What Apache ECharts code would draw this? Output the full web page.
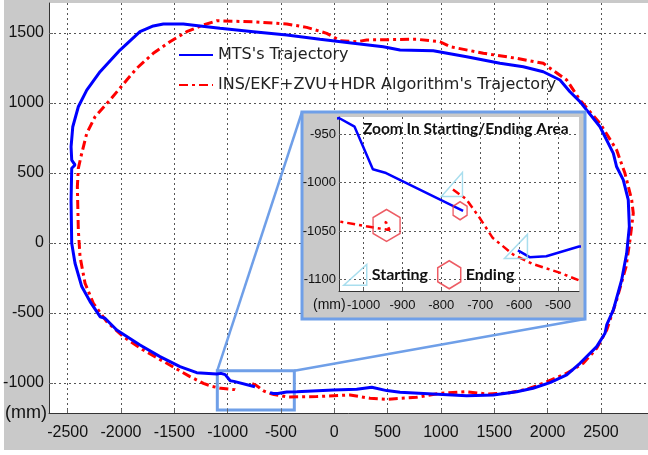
<!DOCTYPE html>
<html><head><meta charset="utf-8">
<script src="https://cdn.jsdelivr.net/npm/echarts@6/dist/echarts.min.js"></script>
<style>
html,body{margin:0;padding:0;background:#fff;}
#bg{position:absolute;left:4px;top:0;width:644px;height:450px;background:#c9c9c9;}
#c{position:absolute;left:0;top:0;width:648px;height:455px;}
</style>
</head><body><div id="bg"></div><div id="c"></div>
<script>
// ---- data ----
const xTicks = [-2500,-2000,-1500,-1000,-500,0,500,1000,1500,2000,2500];
const yTicks = [-1000,-500,0,500,1000,1500];
const insetXTicks = [-1000,-900,-800,-700,-600,-500];
const insetYTicks = [-1100,-1050,-1000,-950];
const seriesNames = ["MTS's Trajectory", "INS/EKF+ZVU+HDR Algorithm's Trajectory"];
const markerNames = ["Starting", "Ending"];
const insetTitle = "Zoom In Starting/Ending Area";
const unitLabel = "(mm)";

const mtsX = [-603,-573,-530,-446,-352,-9,210,351,491,616,925,1241,1491,1710,1863,2022,2179,2303,2460,2538,2554,2616,2694,2741,2766,2756,2709,2647,2616,2491,2303,2209,2116,1959,1772,1553,1241,928,616,459,178,-134,-446,-759,-1072,-1259,-1416,-1603,-1697,-1822,-2009,-2196,-2321,-2400,-2452,-2468,-2462,-2431,-2462,-2468,-2462,-2431,-2368,-2290,-2196,-2150,-2040,-1822,-1634,-1447,-1290,-1102,-1063,-1023,-976,-942,-744];
const mtsY = [-1070,-1077,-1076,-1066,-1064,-1051,-1046,-1032,-1056,-1068,-1080,-1092,-1087,-1064,-1039,-999,-944,-861,-742,-646,-587,-480,-266,-75,115,306,449,543,639,829,1008,1079,1163,1222,1258,1282,1329,1372,1377,1401,1425,1454,1484,1508,1532,1549,1563,1563,1549,1508,1377,1222,1091,972,829,686,591,556,532,300,-4,-146,-313,-420,-528,-539,-623,-730,-813,-885,-928,-937,-933,-942,-986,-990,-1029];

const insX = [-770,-736,-702,-668,-616,-565,-496,-446,-165,147,335,491,772,991,1241,1429,1616,1804,1959,2179,2334,2460,2554,2647,2735,2772,2803,2788,2725,2647,2491,2303,2179,1959,1710,1397,1085,991,772,304,210,53,-71,-259,-446,-759,-1102,-1228,-1384,-1541,-1697,-1853,-1946,-2103,-2243,-2321,-2368,-2400,-2409,-2400,-2384,-2337,-2259,-2134,-1978,-1791,-1571,-1353,-1228,-1150,-1063,-993,-933,-942,-951];
const insY = [-1007,-1017,-1036,-1057,-1074,-1084,-1093,-1101,-1099,-1087,-1111,-1118,-1104,-1075,-1064,-1080,-1075,-1046,-1004,-932,-861,-754,-623,-409,-171,20,211,306,496,663,853,1020,1163,1282,1318,1354,1401,1436,1454,1449,1436,1444,1496,1539,1563,1579,1586,1556,1508,1436,1354,1246,1163,1020,901,782,639,532,401,91,-99,-289,-432,-564,-671,-766,-861,-956,-1004,-1025,-1040,-1045,-1049,-1041,-1040];

const zoomBoxX = [-1097, -375];
const zoomBoxY = [-1194, -914];

// ---- axis extents ----
const xMin = -2675, xMax = 2941, yMin = -1216, yMax = 1713;
const ixMin = -1063, ixMax = -446, iyMin = -1112, iyMax = -932;

const pair = (xs, ys) => xs.map((x, i) => [x, ys[i]]);
const mts = pair(mtsX, mtsY);
const ins = pair(insX, insY);

const BLUE = '#0000ff', RED = '#ff0000', BOX = '#6f9fe8';
const TRI = 'path://M0,19 L21,19 L21,0 Z';
const HEX = 'path://M11.5,0 L23,7 L23,21 L11.5,28 L0,21 L0,7 Z';
const NARROW = "'Liberation Sans Narrow','Liberation Sans',sans-serif";
const plain = v => String(v);

const chart = echarts.init(document.getElementById('c'), null, {renderer: 'canvas'});

function valueAxis(o) {
  return Object.assign({
    type: 'value',
    axisLine: {show: true, onZero: false, lineStyle: {color: '#333', width: 1}},
    splitLine: {show: true, lineStyle: {color: '#555', type: [2, 3], width: 1}},
  }, o);
}

const option = {
  animation: false,
  backgroundColor: 'transparent',
  grid: [
    {left: 49, top: 3, right: 0, bottom: 42, show: true, backgroundColor: '#fff', borderWidth: 0, z: 0,
      containLabel: false, outerBoundsMode: 'none'},
    {left: 339, top: 117, width: 240, height: 174, show: true, backgroundColor: '#fff', borderWidth: 0, z: 20,
      containLabel: false, outerBoundsMode: 'none'}
  ],
  xAxis: [
    valueAxis({gridIndex: 0, min: xMin, max: xMax, z: 1,
      axisTick: {show: true, inside: true, length: 4, lineStyle: {color: '#666'}, customValues: xTicks},
      axisLabel: {customValues: xTicks, formatter: plain, hideOverlap: false,
        fontFamily: NARROW, fontSize: 16, color: '#111', margin: 12}}),
    valueAxis({gridIndex: 1, min: ixMin, max: ixMax, z: 21,
      axisTick: {show: true, inside: true, length: 3, lineStyle: {color: '#666'}, customValues: insetXTicks},
      axisLabel: {customValues: insetXTicks, formatter: plain, hideOverlap: false,
        fontFamily: NARROW, fontSize: 13, color: '#111', margin: 8}})
  ],
  yAxis: [
    valueAxis({gridIndex: 0, min: yMin, max: yMax, z: 1,
      axisTick: {show: true, inside: true, length: 4, lineStyle: {color: '#666'}, customValues: yTicks},
      axisLabel: {customValues: yTicks.concat([yMin]), hideOverlap: false,
        fontFamily: NARROW, fontSize: 16, color: '#111', margin: 5,
        formatter: v => (v === yMin ? '{u|' + unitLabel + '}' : String(v)),
        rich: {u: {fontFamily: NARROW, fontSize: 18, color: '#111', padding: [0, -3, 0, 0]}}}}),
    valueAxis({gridIndex: 1, min: iyMin, max: iyMax, z: 21,
      axisTick: {show: true, inside: true, length: 3, lineStyle: {color: '#666'}, customValues: insetYTicks},
      axisLabel: {customValues: insetYTicks, formatter: plain, hideOverlap: false,
        fontFamily: NARROW, fontSize: 13, color: '#111', margin: 3}})
  ],
  title: {
    text: insetTitle, left: 363, top: 121, z: 25, padding: 0,
    textStyle: {fontFamily: 'Lato', fontWeight: 'bold', fontSize: 15.5, color: '#111'}
  },
  legend: [
    {
      data: seriesNames, orient: 'vertical', left: 178, top: 45, z: 5, padding: 0,
      itemWidth: 34, itemHeight: 20, itemGap: 10,
      itemStyle: {opacity: 0},
      textStyle: {fontFamily: 'DejaVu Sans', fontSize: 16, color: '#222', lineHeight: 20}
    },
    {
      data: [
        {name: markerNames[0], icon: TRI, itemStyle: {color: 'rgba(0,0,0,0)', borderColor: '#93d6ea', borderWidth: 1.5}},
        {name: markerNames[1], icon: HEX, itemStyle: {color: 'rgba(0,0,0,0)', borderColor: '#e8333d', borderWidth: 1.5}}
      ],
      orient: 'horizontal', left: 343, top: 260, z: 25, padding: 0,
      itemWidth: 23, itemHeight: 28, itemGap: 9,
      textStyle: {fontFamily: 'Lato', fontWeight: 'bold', fontSize: 16, color: '#111'}
    }
  ],
  series: [
    {
      name: seriesNames[0], type: 'line', xAxisIndex: 0, yAxisIndex: 0, data: mts, z: 3,
      showSymbol: false, symbol: 'none', smooth: false, clip: true,
      lineStyle: {color: BLUE, width: 3}, itemStyle: {color: BLUE},
      markArea: {
        silent: true,
        itemStyle: {color: 'rgba(0,0,0,0)', borderColor: BOX, borderWidth: 3},
        data: [[{coord: [zoomBoxX[0], zoomBoxY[1]]}, {coord: [zoomBoxX[1], zoomBoxY[0]]}]]
      }
    },
    {
      name: seriesNames[1], type: 'line', xAxisIndex: 0, yAxisIndex: 0, data: ins, z: 2,
      showSymbol: false, symbol: 'none', clip: true,
      lineStyle: {color: RED, width: 3, type: [9, 4, 3, 4]}, itemStyle: {color: RED}
    },
    {
      name: seriesNames[0], type: 'line', xAxisIndex: 1, yAxisIndex: 1, data: mts, z: 23,
      showSymbol: false, symbol: 'none', clip: true,
      lineStyle: {color: BLUE, width: 2.5}, itemStyle: {color: BLUE}
    },
    {
      name: seriesNames[1], type: 'line', xAxisIndex: 1, yAxisIndex: 1, data: ins, z: 22,
      showSymbol: false, symbol: 'none', clip: true,
      lineStyle: {color: RED, width: 2.5, type: [8, 4, 3, 4]}, itemStyle: {color: RED}
    },
    {
      name: markerNames[0], type: 'scatter', xAxisIndex: 1, yAxisIndex: 1, z: 24,
      symbol: TRI, symbolKeepAspect: false,
      itemStyle: {color: 'rgba(0,0,0,0)', borderColor: '#93d6ea', borderWidth: 1.5},
      data: [
        {value: mts[0], symbolSize: [23, 24], symbolOffset: [-2, -4]},
        {value: ins[0], symbolSize: [21, 24], symbolOffset: [-1, -5]}
      ]
    },
    {
      name: markerNames[1], type: 'scatter', xAxisIndex: 1, yAxisIndex: 1, z: 24,
      symbol: HEX, symbolKeepAspect: false,
      itemStyle: {color: 'rgba(0,0,0,0)', borderColor: '#e8333d', borderWidth: 1.5},
      data: [
        {value: mts[mts.length - 1], symbolSize: [14, 18], symbolOffset: [-3, 0]},
        {value: ins[ins.length - 1], symbolSize: [27, 32], symbolOffset: [4, 4]}
      ]
    }
  ]
};
chart.setOption(option);

// inset frame and connectors (corners of zoom box converted through the main scales)
const insetBox = {x: 302, y: 112, w: 283, h: 207};
const tl = chart.convertToPixel({gridIndex: 0}, [zoomBoxX[0], zoomBoxY[1]]);
const tr = chart.convertToPixel({gridIndex: 0}, [zoomBoxX[1], zoomBoxY[1]]);
chart.setOption({
  graphic: [
    {type: 'line', id: 'c1', z: 14, silent: true,
      shape: {x1: tl[0], y1: tl[1], x2: insetBox.x, y2: insetBox.y},
      style: {stroke: BOX, lineWidth: 2.5}},
    {type: 'line', id: 'c2', z: 14, silent: true,
      shape: {x1: tr[0], y1: tr[1], x2: insetBox.x + insetBox.w, y2: insetBox.y + insetBox.h},
      style: {stroke: BOX, lineWidth: 2.5}},
    {type: 'rect', id: 'box', z: 15, silent: true,
      shape: {x: insetBox.x, y: insetBox.y, width: insetBox.w, height: insetBox.h},
      style: {fill: '#c9c9c9', stroke: BOX, lineWidth: 3}},
    {type: 'text', id: 'mm2', z: 25, silent: true, left: 313, top: 298,
      style: {text: unitLabel, font: "14px 'Liberation Sans Narrow','Liberation Sans',sans-serif", fill: '#111'}}
  ]
});
</script>
</body></html>
